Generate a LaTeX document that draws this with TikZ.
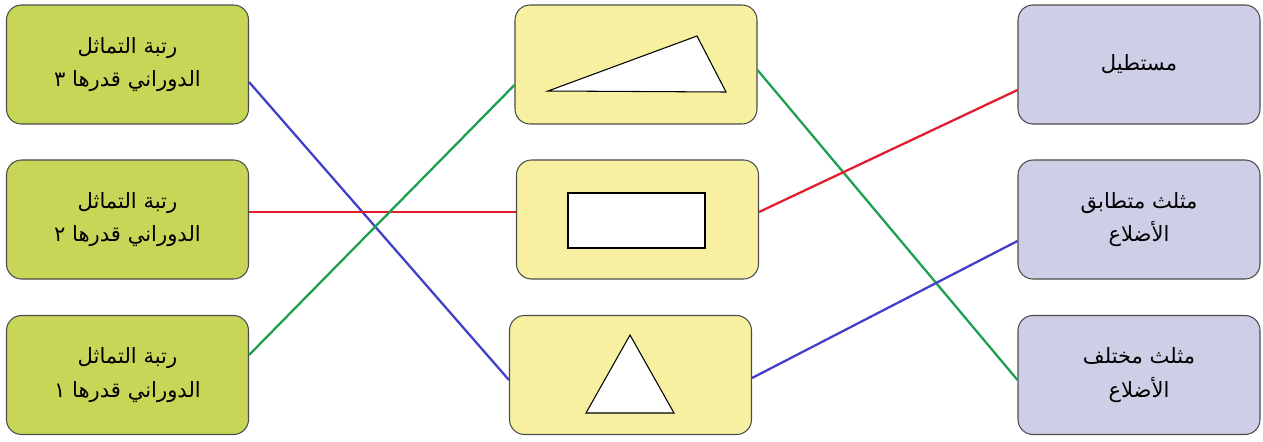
\documentclass[tikz,border=0pt]{standalone}
\usepackage{fontspec}
\usepackage{tikz}
\usetikzlibrary{positioning}
\TeXXeTstate=1
\newfontfamily\arabicfont[Script=Arabic]{DejaVu Sans}

\definecolor{boxgreen}{RGB}{200,214,88}
\definecolor{boxyellow}{RGB}{246,240,160}
\definecolor{boxviolet}{RGB}{206,206,230}
\definecolor{lnblue}{RGB}{64,64,200}
\definecolor{lnred}{RGB}{226,30,44}
\definecolor{lngreen}{RGB}{30,160,80}

\tikzset{
  card/.style={draw=black!70, line width=0.6pt, rounded corners=0.3cm,
    minimum width=4.84cm, minimum height=2.38cm, align=center,
    font=\arabicfont\fontsize{12}{19}\selectfont},
  link/.style={line width=1.3pt}
}

\begin{document}
\begin{tikzpicture}
    \useasboundingbox (0,0) rectangle (25.26,8.82);
    % Cột trái
    \node[card, fill=boxgreen] (r3) at (2.55,7.53) {\beginR رتبة التماثل\endR\\\beginR الدوراني قدرها ٣\endR};
    \node[card, fill=boxgreen] (r2) at (2.55,4.43) {\beginR رتبة التماثل\endR\\\beginR الدوراني قدرها ٢\endR};
    \node[card, fill=boxgreen] (r1) at (2.55,1.32) {\beginR رتبة التماثل\endR\\\beginR الدوراني قدرها ١\endR};
    
    % Cột giữa
    \node[card, fill=boxyellow] (scal) at (12.72,7.53) {};
    \node[card, fill=boxyellow] (rect) at (12.75,4.43) {};
    \node[card, fill=boxyellow] (equi) at (12.61,1.32) {};
    \draw[fill=white, line width=0.6pt] (10.96,7.0) -- (13.94,8.1) -- (14.52,6.98) -- cycle;
    \draw[fill=white, line width=0.6pt] (11.36,3.86) rectangle (14.1,4.96);
    \draw[fill=white, line width=0.6pt] (12.6,2.12) -- (11.72,0.56) -- (13.48,0.56) -- cycle;
    
    % Cột phải
    \node[card, fill=boxviolet] (n1) at (22.78,7.53) {\beginR مستطيل\endR};
    \node[card, fill=boxviolet] (n2) at (22.78,4.43) {\beginR مثلث متطابق\endR\\\beginR الأضلاع\endR};
    \node[card, fill=boxviolet] (n3) at (22.78,1.32) {\beginR مثلث مختلف\endR\\\beginR الأضلاع\endR};
    
    % Nối
    \draw[link, lnblue] ([yshift=-0.35cm]r3.east) -- ([yshift=-0.1cm]equi.west);
    \draw[link, lnred] ([yshift=0.15cm]r2.east) -- ([yshift=0.15cm]rect.west);
    \draw[link, lngreen] ([yshift=0.4cm]r1.east) -- ([yshift=-0.41cm]scal.west);
    \draw[link, lngreen] ([yshift=-0.11cm]scal.east) -- ([yshift=-0.1cm]n3.west);
    \draw[link, lnred] ([yshift=0.15cm]rect.east) -- ([yshift=-0.51cm]n1.west);
    \draw[link, lnblue] ([yshift=-0.06cm]equi.east) -- ([yshift=-0.43cm]n2.west);
\end{tikzpicture}
\end{document}
